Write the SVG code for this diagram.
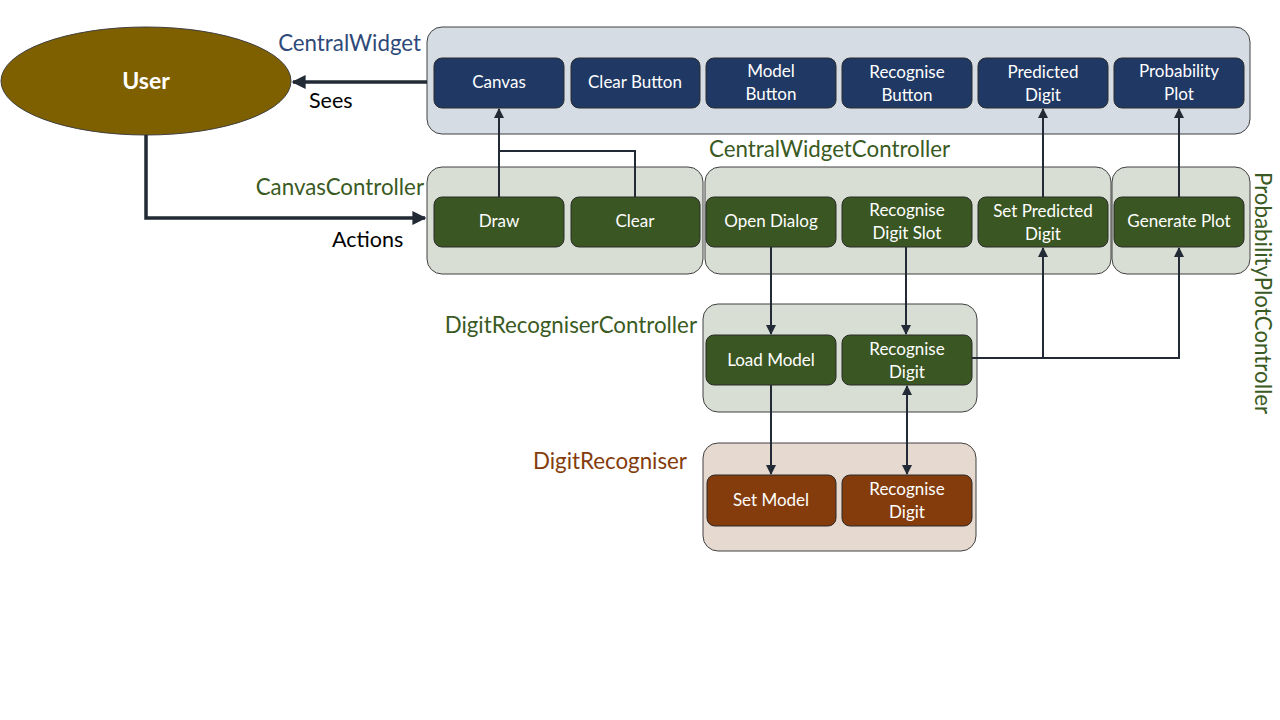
<svg xmlns="http://www.w3.org/2000/svg" width="1280" height="720" viewBox="0 0 1280 720">
<style>
text{font-family:Lato,"Open Sans","Liberation Sans",sans-serif}
.cw{fill:#D6DCE4;stroke:#404040;stroke-width:1}
.cc{fill:#D9DED5;stroke:#404040;stroke-width:1}
.dr{fill:#E6D9D0;stroke:#404040;stroke-width:1}
.bb{fill:#203864;stroke:#2B2B2B;stroke-width:1}
.gb{fill:#3A5623;stroke:#2B2B2B;stroke-width:1}
.rb{fill:#843C0C;stroke:#2B2B2B;stroke-width:1}
.bt{fill:#fff;font-size:17px;text-anchor:middle}
.lb{font-size:22.3px}
.g{fill:#3A5A23}
.b{fill:#2F4A7A}
.r{fill:#843C0C}
.ln{fill:none;stroke:#222A35;stroke-width:2}
.thick{fill:none;stroke:#222A35;stroke-width:3.5}
</style>
<defs>
<marker id="a" viewBox="0 0 10 10" refX="9" refY="5" markerWidth="5" markerHeight="5" orient="auto-start-reverse"><path d="M0,0L10,5L0,10z" fill="#222A35"/></marker>
<marker id="A" viewBox="0 0 10 10" refX="9" refY="5" markerWidth="4" markerHeight="4" orient="auto"><path d="M0,0L10,5L0,10z" fill="#222A35"/></marker>
</defs>

<g id="user">
<ellipse cx="146" cy="81" rx="145" ry="54" fill="#7F6000" stroke="#404040" stroke-width="1"/>
<text x="146" y="89" fill="#fff" font-size="23" font-weight="bold" text-anchor="middle">User</text>
</g>

<g id="centralWidget">
<rect class="cw" x="427" y="27" width="823" height="107" rx="15"/>
<text class="lb b" x="421" y="51" text-anchor="end">CentralWidget</text>
</g>
<g id="canvasController">
<rect class="cc" x="427" y="167" width="276" height="107" rx="15"/>
<text class="lb g" x="424" y="195" text-anchor="end">CanvasController</text>
</g>
<g id="centralWidgetController">
<rect class="cc" x="705" y="167" width="406" height="107" rx="15"/>
<text class="lb g" x="709" y="157">CentralWidgetController</text>
</g>
<g id="probabilityPlotController">
<rect class="cc" x="1112" y="167" width="138" height="107" rx="15"/>
<text class="lb g" transform="translate(1255,172) rotate(90)">ProbabilityPlotController</text>
</g>
<g id="digitRecogniserController">
<rect class="cc" x="703" y="304" width="274" height="108" rx="15"/>
<text class="lb g" x="697" y="333" text-anchor="end">DigitRecogniserController</text>
</g>
<g id="digitRecogniser">
<rect class="dr" x="703" y="443" width="273" height="108" rx="15"/>
<text class="lb r" x="687" y="469" text-anchor="end">DigitRecogniser</text>
</g>

<g id="canvas"><rect class="bb" x="434" y="58" width="130" height="50" rx="8"/><text class="bt" x="499" y="88">Canvas</text></g>
<g id="clearButton"><rect class="bb" x="571" y="58" width="129" height="50" rx="8"/><text class="bt" x="635" y="88">Clear Button</text></g>
<g id="modelButton"><rect class="bb" x="706" y="58" width="130" height="50" rx="8"/><text class="bt" x="771" y="77">Model</text><text class="bt" x="771" y="100">Button</text></g>
<g id="recogniseButton"><rect class="bb" x="842" y="58" width="130" height="50" rx="8"/><text class="bt" x="907" y="78">Recognise</text><text class="bt" x="907" y="101">Button</text></g>
<g id="predictedDigit"><rect class="bb" x="978" y="58" width="130" height="50" rx="8"/><text class="bt" x="1043" y="78">Predicted</text><text class="bt" x="1043" y="101">Digit</text></g>
<g id="probabilityPlot"><rect class="bb" x="1114" y="58" width="130" height="50" rx="8"/><text class="bt" x="1179" y="77">Probability</text><text class="bt" x="1179" y="100">Plot</text></g>

<g id="draw"><rect class="gb" x="434" y="197" width="130" height="50" rx="8"/><text class="bt" x="499" y="227">Draw</text></g>
<g id="clear"><rect class="gb" x="571" y="197" width="129" height="50" rx="8"/><text class="bt" x="635" y="227">Clear</text></g>
<g id="openDialog"><rect class="gb" x="706" y="197" width="130" height="50" rx="8"/><text class="bt" x="771" y="227">Open Dialog</text></g>
<g id="recogniseDigitSlot"><rect class="gb" x="842" y="197" width="130" height="50" rx="8"/><text class="bt" x="907" y="216">Recognise</text><text class="bt" x="907" y="239">Digit Slot</text></g>
<g id="setPredictedDigit"><rect class="gb" x="978" y="197" width="130" height="50" rx="8"/><text class="bt" x="1043" y="217">Set Predicted</text><text class="bt" x="1043" y="240">Digit</text></g>
<g id="generatePlot"><rect class="gb" x="1114" y="197" width="130" height="50" rx="8"/><text class="bt" x="1179" y="227">Generate Plot</text></g>

<g id="loadModel"><rect class="gb" x="706" y="335" width="130" height="50" rx="8"/><text class="bt" x="771" y="366">Load Model</text></g>
<g id="recogniseDigitDRC"><rect class="gb" x="842" y="335" width="130" height="50" rx="8"/><text class="bt" x="907" y="355">Recognise</text><text class="bt" x="907" y="378">Digit</text></g>

<g id="setModel"><rect class="rb" x="707" y="475" width="129" height="51" rx="8"/><text class="bt" x="771" y="506">Set Model</text></g>
<g id="recogniseDigitDR"><rect class="rb" x="842" y="475" width="130" height="51" rx="8"/><text class="bt" x="907" y="495">Recognise</text><text class="bt" x="907" y="518">Digit</text></g>

<g id="connectors">
<path class="thick" d="M427,82H293" marker-end="url(#A)"/>
<text x="309" y="108" font-size="21.5" fill="#000">Sees</text>
<path class="thick" d="M146,135V218H425" marker-end="url(#A)"/>
<text x="332" y="247" font-size="21.5" fill="#000">Actions</text>
<path class="ln" d="M499,197V109" marker-end="url(#a)"/>
<path class="ln" d="M635,197V151H499"/>
<path class="ln" d="M1043,197V109" marker-end="url(#a)"/>
<path class="ln" d="M1179,197V109" marker-end="url(#a)"/>
<path class="ln" d="M771,247V334" marker-end="url(#a)"/>
<path class="ln" d="M906,247V334" marker-end="url(#a)"/>
<path class="ln" d="M771,385V474" marker-end="url(#a)"/>
<path class="ln" d="M907,386V474" marker-start="url(#a)" marker-end="url(#a)"/>
<path class="ln" d="M972,358H1179V248" marker-end="url(#a)"/>
<path class="ln" d="M1043,358V248" marker-end="url(#a)"/>
</g>
</svg>
